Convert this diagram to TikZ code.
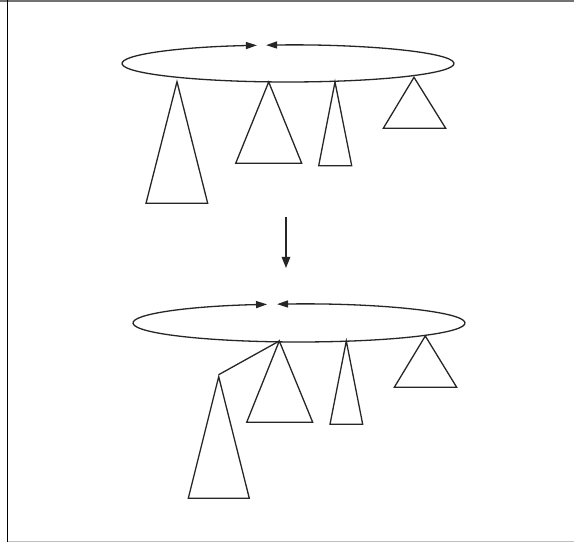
\documentclass[tikz,border=0pt]{standalone}
\usetikzlibrary{arrows.meta}
\tikzset{
  shape line/.style={line width=1.3pt, line join=miter, draw=black!85},
  ring/.style={line width=1.3pt, draw=black!85, {Triangle[length=11pt,width=7pt]}-{Triangle[length=11pt,width=7pt]}},
  down arrow/.style={line width=1.3pt, draw=black!85, -{Triangle[length=11pt,width=8.5pt]}}
}
\begin{document}
\begin{tikzpicture}[x=1pt,y=1pt]
\useasboundingbox (0,0) rectangle (574,543);
\fill[white] (0,0) rectangle (574,543);
% frame
\draw[line width=2pt, draw=black!55] (0,542.2) -- (574,542.2);
\draw[line width=1.5pt, draw=black!25] (7.5,1.5) -- (574,1.5);
\draw[line width=1.5pt, draw=black] (7.5,543) -- (7.5,1);

% ---- top state ----
\coordinate (topc) at (288,479.5);
\draw[ring] ([shift={(97.6:166 and 18.5)}]topc) arc[start angle=97.6, end angle=-259.2, x radius=166, y radius=18.5];
\coordinate (t1) at (177,461.3);
\coordinate (t2) at (268.7,461);
\coordinate (t3) at (335,461);
\coordinate (t4) at (414,465.7);
\draw[shape line] (t1) -- (207.7,339.7) -- (146,339.7) -- cycle;
\draw[shape line] (t2) -- (301.7,379.7) -- (235.7,379.7) -- cycle;
\draw[shape line] (t3) -- (351.7,377.3) -- (318.7,377.3) -- cycle;
\draw[shape line] (t4) -- (445.7,414.7) -- (383.3,414.7) -- cycle;

% ---- transition arrow ----
\coordinate (arrA) at (286,326);
\coordinate (arrB) at (286,275);
\draw[down arrow] (arrA) -- (arrB);

% ---- bottom state ----
\coordinate (botc) at (299,220);
\draw[ring] ([shift={(97.6:166 and 19)}]botc) arc[start angle=97.6, end angle=-258.9, x radius=166, y radius=19];
\coordinate (b1) at (218.7,166.3);
\coordinate (b2) at (279.3,202);
\coordinate (b3) at (346.3,202);
\coordinate (b4) at (425.3,207);
\draw[shape line] (b1) -- (249.3,44.7) -- (188.3,44.7) -- cycle;
\draw[shape line] (b2) -- (312.7,120.7) -- (246.7,120.7) -- cycle;
\draw[shape line] (b3) -- (362.7,118.7) -- (330,118.7) -- cycle;
\draw[shape line] (b4) -- (456.7,155.7) -- (394.3,155.7) -- cycle;
\draw[shape line] ([yshift=2pt]b1) -- (b2);
\end{tikzpicture}
\end{document}
